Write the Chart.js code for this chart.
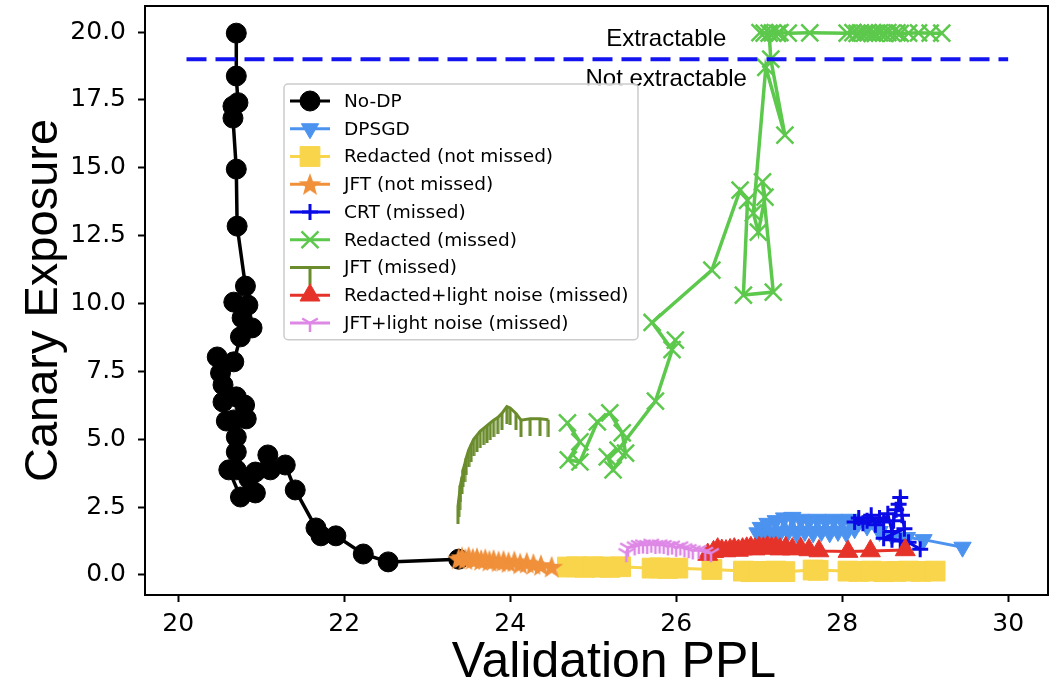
<!DOCTYPE html>
<html>
<head>
<meta charset="utf-8">
<script src="https://cdn.jsdelivr.net/npm/chart.js@4.4.0/dist/chart.umd.min.js"></script>
<style>
  html, body { margin: 0; padding: 0; background: #fff; }
  #wrap { width: 1052px; height: 688px; }
</style>
</head>
<body>
<div id="wrap"><canvas id="c" width="1052" height="688"></canvas></div>
<script>
// ---- data ----
const xTicks = [20, 22, 24, 26, 28, 30];
const yTicks = [0, 2.5, 5, 7.5, 10, 12.5, 15, 17.5, 20];

const labels = ['No-DP', 'DPSGD', 'Redacted (not missed)', 'JFT (not missed)', 'CRT (missed)',
  'Redacted (missed)', 'JFT (missed)', 'Redacted+light noise (missed)', 'JFT+light noise (missed)'];

const noDpX = [20.70, 20.70, 20.72, 20.66, 20.66, 20.70, 20.71, 20.81, 20.84, 20.67, 20.77, 20.89, 20.75,
  20.67, 20.47, 20.51, 20.54, 20.70, 20.54, 20.80, 20.82, 20.58, 20.67, 20.70, 20.70, 20.70, 20.61,
  20.75, 20.85, 20.93, 20.93, 21.08, 21.11, 21.29, 21.41, 21.66, 21.72, 21.90, 22.23, 22.53, 23.38];
const noDpY = [19.96, 18.38, 17.40, 17.27, 16.83, 14.95, 12.85, 10.64, 9.94, 10.05, 9.47, 9.10, 8.77,
  7.85, 8.03, 7.44, 7.00, 6.56, 6.37, 6.26, 5.75, 5.67, 5.71, 5.08, 4.53, 3.87, 3.87,
  2.87, 3.55, 3.02, 3.79, 4.42, 3.87, 4.05, 3.13, 1.73, 1.44, 1.44, 0.77, 0.48, 0.58];

const dpsgdX = [26.98, 27.02, 27.06, 27.10, 27.15, 27.20, 27.25, 27.30, 27.35, 27.40, 27.45, 27.50, 27.55,
  27.60, 27.65, 27.70, 27.75, 27.80, 27.85, 27.90, 27.95, 28.00, 28.05, 28.10, 28.15, 28.20, 28.30,
  28.45, 28.60, 28.78, 28.98, 29.45];
const dpsgdY = [1.55, 1.75, 1.50, 1.90, 1.55, 2.00, 1.55, 2.10, 1.60, 2.12, 1.55, 2.05, 1.60,
  2.00, 1.55, 2.05, 1.60, 2.00, 1.55, 2.05, 1.60, 2.00, 1.55, 2.05, 1.70, 1.95, 1.80,
  1.60, 1.45, 1.38, 1.30, 1.02];

const redactedX = [24.69, 24.80, 24.90, 25.00, 25.10, 25.20, 25.33, 25.71, 25.80, 25.90, 26.02, 26.43,
  26.81, 26.90, 27.00, 27.10, 27.20, 27.31, 27.65, 27.71, 28.07, 28.20, 28.35, 28.50, 28.65, 28.80, 28.95, 29.12];
const redactedY = [0.29, 0.30, 0.28, 0.30, 0.29, 0.28, 0.30, 0.25, 0.26, 0.24, 0.25, 0.20,
  0.14, 0.12, 0.13, 0.12, 0.14, 0.12, 0.18, 0.17, 0.14, 0.13, 0.14, 0.12, 0.13, 0.14, 0.13, 0.14];

const jftX = [23.38, 23.42, 23.46, 23.50, 23.55, 23.60, 23.65, 23.70, 23.75, 23.80, 23.86, 23.92,
  23.98, 24.05, 24.12, 24.20, 24.28, 24.37, 24.50];
const jftY = [0.60, 0.65, 0.58, 0.66, 0.60, 0.62, 0.55, 0.58, 0.52, 0.55, 0.50, 0.52,
  0.47, 0.50, 0.42, 0.45, 0.40, 0.36, 0.30];

const crtX = [28.15, 28.20, 28.25, 28.30, 28.35, 28.40, 28.45, 28.50, 28.55, 28.60, 28.62, 28.65,
  28.68, 28.70, 28.72, 28.75, 28.50, 28.60, 28.70, 28.80, 28.94];
const crtY = [1.95, 2.10, 1.90, 2.00, 2.20, 1.85, 2.10, 1.95, 2.25, 1.60, 2.00, 2.40,
  2.60, 2.85, 2.20, 1.70, 1.35, 1.30, 1.25, 1.20, 0.95];

const missedX = [24.69, 24.84, 24.70, 24.84, 25.05, 25.20, 25.35, 25.39, 25.24, 25.17, 25.30, 25.75,
  25.99, 25.95, 25.71, 26.43, 26.77, 26.86, 26.81, 27.17, 27.04, 27.07, 26.99, 26.93, 27.08, 27.31,
  27.14, 27.12, 27.01, 27.06, 27.16, 27.22, 27.25, 27.35, 27.61, 28.06, 28.13, 28.18, 28.22, 28.27,
  28.31, 28.36, 28.40, 28.45, 28.50, 28.55, 28.60, 28.66, 28.70, 28.80, 28.92, 29.06, 29.20];
const missedY = [5.60, 4.90, 4.24, 4.16, 5.64, 5.97, 5.23, 4.49, 3.87, 4.35, 4.60, 6.40,
  8.65, 8.30, 9.30, 11.23, 14.18, 13.80, 10.31, 10.42, 14.48, 13.92, 12.63, 13.33, 18.70, 16.20,
  19.00, 19.96, 19.98, 19.96, 19.97, 19.95, 19.98, 19.96, 19.97, 19.96, 19.98, 19.95, 19.97, 19.96,
  19.98, 19.96, 19.95, 19.97, 19.96, 19.98, 19.96, 19.97, 19.95, 19.96, 19.97, 19.96, 19.96];

const jftMissedX = [23.37, 23.38, 23.39, 23.40, 23.42, 23.43, 23.45, 23.47, 23.50, 23.53, 23.56, 23.60,
  23.64, 23.68, 23.72, 23.76, 23.80, 23.85, 23.90, 23.96, 24.00, 24.07, 24.13, 24.24, 24.36, 24.46];
const jftMissedY = [2.50, 2.75, 3.00, 3.30, 3.60, 3.85, 4.05, 4.30, 4.60, 4.80, 5.00, 5.15,
  5.30, 5.40, 5.50, 5.60, 5.70, 5.80, 5.95, 6.20, 6.15, 5.95, 5.70, 5.75, 5.75, 5.72];

const noiseRedX = [26.38, 26.45, 26.50, 26.55, 26.60, 26.65, 26.70, 26.75, 26.80, 26.85, 26.90, 26.95,
  27.00, 27.05, 27.10, 27.15, 27.20, 27.25, 27.32, 27.40, 27.50, 27.60, 27.72, 28.07, 28.34, 28.76];
const noiseRedY = [0.75, 0.85, 0.95, 0.90, 0.88, 0.92, 0.95, 0.90, 0.95, 0.98, 1.00, 0.95,
  1.00, 0.98, 1.02, 0.98, 1.00, 0.95, 1.00, 0.95, 0.97, 0.92, 0.88, 0.86, 0.88, 0.92];

const noiseJftX = [25.40, 25.42, 25.50, 25.55, 25.60, 25.65, 25.70, 25.75, 25.80, 25.85, 25.90, 25.95,
  26.00, 26.05, 26.10, 26.15, 26.20, 26.27, 26.35, 26.42];
const noiseJftY = [0.80, 1.00, 1.05, 1.10, 1.12, 1.10, 1.15, 1.10, 1.12, 1.10, 1.05, 1.08,
  1.00, 1.05, 0.98, 0.95, 0.90, 0.92, 0.85, 0.80];

const thresholdX = [20.1, 30.0];
const thresholdY = [19, 19];

// ---- colours / markers ----
const BLACK = '#000000', SKY = '#4c93f0', YELLOW = '#f8d54a', ORANGE = '#f0903a', BLUE = '#0a0ae6',
      GREEN = '#5cc84c', OLIVE = '#6b8c2c', RED = '#e6332a', PINK = '#de88e6';

function markerCanvas(w, h, draw) {
  const c = document.createElement('canvas');
  c.width = w; c.height = h;
  draw(c.getContext('2d'));
  return c;
}
const starImg = markerCanvas(26, 26, g => {
  g.fillStyle = ORANGE; g.beginPath();
  for (let i = 0; i < 10; i++) {
    const r = i % 2 ? 5 : 12, a = -Math.PI / 2 + i * Math.PI / 5;
    g.lineTo(13 + r * Math.cos(a), 14 + r * Math.sin(a));
  }
  g.closePath(); g.fill();
});
const tickDownImg = markerCanvas(4, 34, g => { g.fillStyle = OLIVE; g.fillRect(0.5, 17, 3, 17); });
const triDownImg = markerCanvas(20, 20, g => {
  g.strokeStyle = PINK; g.lineWidth = 2.5; g.beginPath();
  g.moveTo(10, 10); g.lineTo(10, 19);
  g.moveTo(10, 10); g.lineTo(2.2, 5.5);
  g.moveTo(10, 10); g.lineTo(17.8, 5.5);
  g.stroke();
});

function series(i, xs, ys, color, style, radius, extra) {
  return Object.assign({
    label: labels[i], inLegend: true, order: 20 - i,
    data: xs.map((x, k) => ({ x, y: ys[k] })),
    showLine: true, borderColor: color, backgroundColor: color, borderWidth: 3,
    pointStyle: style, pointRadius: radius, pointHoverRadius: radius,
    pointBorderColor: color, pointBackgroundColor: color, pointBorderWidth: 1
  }, extra || {});
}

const datasets = [
  series(0, noDpX, noDpY, BLACK, 'circle', 10, { borderWidth: 3.5 }),
  series(1, dpsgdX, dpsgdY, SKY, 'triangle', 10, { pointRotation: 180 }),
  series(2, redactedX, redactedY, YELLOW, 'rect', 14),
  series(3, jftX, jftY, ORANGE, starImg, 12),
  series(4, crtX, crtY, BLUE, 'cross', 8, { pointBorderWidth: 3 }),
  series(5, missedX, missedY, GREEN, 'crossRot', 12, { pointBorderWidth: 2.5, borderWidth: 3.5 }),
  series(6, jftMissedX, jftMissedY, OLIVE, tickDownImg, 16),
  series(7, noiseRedX, noiseRedY, RED, 'triangle', 11.5),
  series(8, noiseJftX, noiseJftY, PINK, triDownImg, 9),
  {
    label: 'threshold', inLegend: false, order: 0,
    data: thresholdX.map((x, k) => ({ x, y: thresholdY[k] })),
    showLine: true, borderColor: '#1414f0', borderWidth: 4, borderDash: [20, 9], pointRadius: 0
  }
];

// ---- plugins ----
const frame = {
  id: 'frame',
  afterDraw(chart) {
    const { ctx, chartArea: a } = chart;
    ctx.save(); ctx.strokeStyle = '#000'; ctx.lineWidth = 2;
    ctx.strokeRect(a.left, a.top, a.right - a.left, a.bottom - a.top);
    ctx.restore();
  }
};

// annotations + x label (the x label in the figure sits a little right of the axes centre)
const notes = {
  id: 'notes',
  afterDatasetsDraw(chart) {
    const { ctx, scales: { x, y } } = chart;
    ctx.save();
    ctx.font = '24px "Liberation Sans", Arial, sans-serif';
    ctx.fillStyle = '#000'; ctx.textAlign = 'center'; ctx.textBaseline = 'alphabetic';
    ctx.fillText('Extractable', x.getPixelForValue(25.88), y.getPixelForValue(19.48));
    ctx.fillText('Not extractable', x.getPixelForValue(25.88), y.getPixelForValue(18.02));
    ctx.font = '50px "Liberation Sans", Arial, sans-serif';
    ctx.fillText('Validation PPL', x.getPixelForValue(25.25), 677);
    ctx.restore();
  }
};

const boxLegend = {
  id: 'boxLegend',
  afterDatasetsDraw(chart) {
    const ctx = chart.ctx;
    const items = chart.data.datasets.filter(d => d.inLegend);
    const left = 284, top = 84, w = 354, rowH = 27.75;
    const h = rowH * items.length + 6;
    ctx.save();
    ctx.fillStyle = 'rgba(255,255,255,0.85)'; ctx.strokeStyle = '#cccccc'; ctx.lineWidth = 1.5;
    ctx.beginPath(); ctx.roundRect(left, top, w, h, 4); ctx.fill(); ctx.stroke();
    ctx.font = '18.5px "DejaVu Sans", sans-serif'; ctx.textBaseline = 'middle'; ctx.textAlign = 'left';
    items.forEach((d, i) => {
      const cy = top + 17 + i * rowH;
      ctx.strokeStyle = d.borderColor; ctx.fillStyle = d.pointBackgroundColor; ctx.lineWidth = 3;
      ctx.beginPath(); ctx.moveTo(left + 6, cy); ctx.lineTo(left + 46, cy); ctx.stroke();
      ctx.lineWidth = d.pointBorderWidth;
      Chart.helpers.drawPoint(ctx, { pointStyle: d.pointStyle, radius: d.pointRadius,
        rotation: d.pointRotation || 0, borderWidth: d.pointBorderWidth }, left + 26, cy);
      ctx.fillStyle = '#000';
      ctx.fillText(d.label, left + 60, cy + 1);
    });
    ctx.restore();
  }
};

const tickFont = { family: 'DejaVu Sans', size: 25 };

new Chart(document.getElementById('c'), {
  type: 'scatter',
  data: { datasets },
  options: {
    responsive: false, animation: false, events: [],
    layout: { autoPadding: false, padding: { top: 6, right: 4, left: 0, bottom: 0 } },
    plugins: { legend: { display: false }, tooltip: { enabled: false } },
    scales: {
      x: {
        type: 'linear', min: 19.6, max: 30.48,
        afterBuildTicks: s => { s.ticks = xTicks.map(v => ({ value: v })); },
        afterFit: s => { s.height = 93; s.paddingLeft = 0; s.paddingRight = 0; },
        ticks: { font: tickFont, color: '#000', padding: 7, maxRotation: 0, autoSkip: false, callback: v => String(v) },
        grid: { drawOnChartArea: false, drawTicks: true, tickLength: 7, tickWidth: 2, tickColor: '#000' },
        border: { display: true, color: '#000', width: 2 },
        title: { display: false }
      },
      y: {
        type: 'linear', min: -0.74, max: 20.96,
        afterBuildTicks: s => { s.ticks = yTicks.map(v => ({ value: v })); },
        afterFit: s => { s.width = 145; s.paddingTop = 0; s.paddingBottom = 0; },
        ticks: { font: tickFont, color: '#000', padding: 12, autoSkip: false, callback: v => v.toFixed(1) },
        grid: { drawOnChartArea: false, drawTicks: true, tickLength: 7, tickWidth: 2, tickColor: '#000' },
        border: { display: true, color: '#000', width: 2 },
        title: { display: true, text: 'Canary Exposure', font: { family: 'Liberation Sans', size: 47, lineHeight: 1 },
                 color: '#000', padding: { top: 21, bottom: 0 } }
      }
    }
  },
  plugins: [frame, notes, boxLegend]
});
</script>
</body>
</html>
